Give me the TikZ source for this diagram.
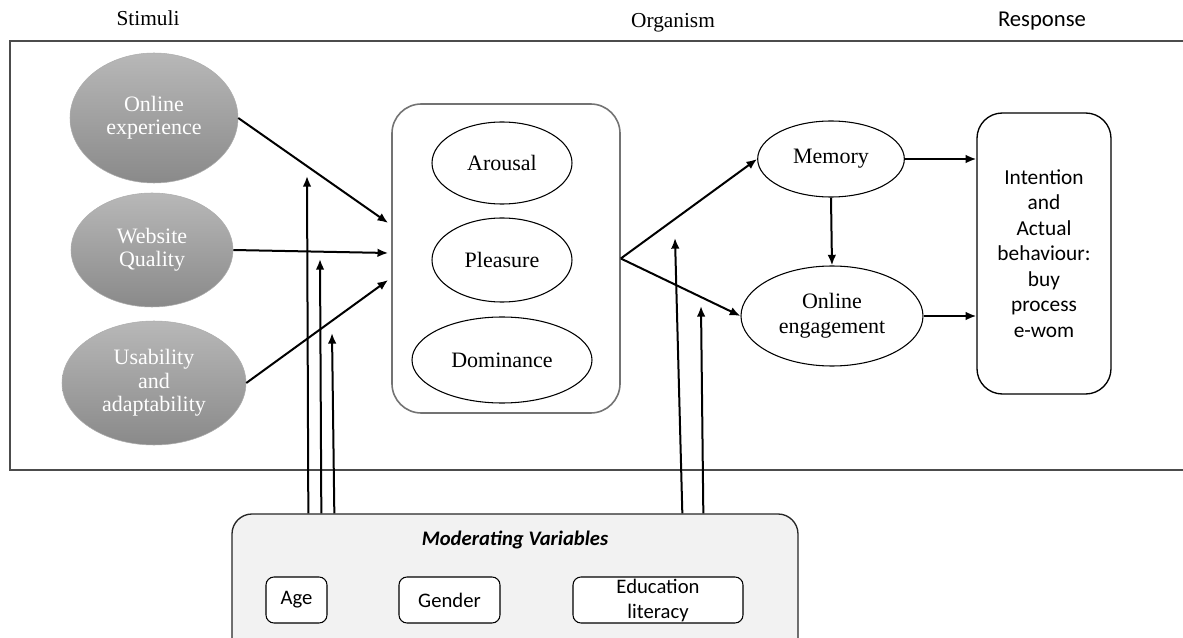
\documentclass[tikz,border=0pt]{standalone}
\usepackage{fontspec}
\setmainfont{Liberation Serif}
\newfontfamily\calfont{Carlito}
\usetikzlibrary{shapes.geometric, positioning, calc, arrows.meta}

\begin{document}
\begin{tikzpicture}[
            x=0.75pt, y=-0.75pt,
            every node/.style={inner sep=0pt, align=center},
            head/.style={font=\fontsize{16}{19}\selectfont},
            stim/.style={ellipse, draw=black!32, top color=black!28, bottom color=black!46,
                text=white, font=\fontsize{16.5}{17.5}\selectfont},
            emo/.style={ellipse, draw, line width=0.8pt, font=\fontsize{16.5}{19}\selectfont},
            modbox/.style={draw, rounded corners=6pt, fill=white, line width=0.8pt,
                minimum height=34.5pt, font=\calfont\fontsize{15.5}{18.75}\selectfont},
            arr/.style={-{Latex[length=8pt,width=6.5pt]}, line width=1.5pt}
          ]
            \useasboundingbox (0,0) rectangle (1183,638);
            \clip (0,0) rectangle (1183,638);
            \draw[black!70, line width=1.2pt] (10,41) rectangle (1195,470);

            \node[head] (stimuli) at (148,18) {Stimuli};
            \node[head] (organism) at (673,23) {Organism};
            \node[head, font=\calfont\fontsize{17}{19}\selectfont] (response) at (1042,21) {Response};

            \node[stim, minimum width=126pt, minimum height=97.5pt] (oe) at (154,118) {Online\\experience};
            \node[stim, minimum width=121.5pt, minimum height=85.5pt] (wq) at (152,250) {Website\\Quality};
            \node[stim, minimum width=138pt, minimum height=93pt] (ua) at (154,383) {Usability\\and\\adaptability};

            \node[draw=black!55, line width=1.2pt, rounded corners=22pt, minimum width=171pt, minimum height=231.75pt] (org) at (506,258.5) {};
            \node[emo, minimum width=105pt, minimum height=61.5pt] (aro) at (502,163) {Arousal};
            \node[emo, minimum width=105pt, minimum height=63pt] (ple) at (502,260) {Pleasure};
            \node[emo, minimum width=135pt, minimum height=64.5pt] (dom) at (502,360) {Dominance};

            \node[emo, minimum width=110pt, minimum height=57pt] (mem) at (831,159) {Memory};
            \node[emo, minimum width=136.5pt, minimum height=75pt] (eng) at (832,316) {Online\\engagement};

            \node[draw, line width=1pt, rounded corners=19pt, minimum width=100.5pt, minimum height=210.75pt,
                font=\calfont\fontsize{16}{19.1}\selectfont] (resp) at (1044,253.5)
                {Intention\\and\\Actual\\behaviour:\\buy\\process\\e-wom};

            \node[draw=black!85, fill=black!5, line width=1pt, rounded corners=15pt,
                minimum width=424.5pt, minimum height=109.5pt] (mod) at (515,587) {};
            \node[font=\calfont\fontsize{15.5}{18}\selectfont\bfseries\itshape] (modtitle) at (515,540) {Moderating Variables};
            \node[modbox, minimum width=45.75pt] (age) at (296.5,600) {Age};
            \node[modbox, minimum width=75.75pt] (gender) at (449.5,600) {Gender};
            \node[modbox, minimum width=127.5pt] (edu) at (658,600) {Education\\literacy};

            \draw[arr] (oe.east) -- ($(org.west)+(-3,-35.5)$);
            \draw[arr] (wq.east) -- ($(org.west)+(-3,-5.5)$);
            \draw[arr] (ua.east) -- ($(org.west)+(-3,21.5)$);

            \draw[arr] (org.east) -- (mem.west);
            \draw[arr] (org.east) -- (eng.west);
            \draw[arr] (mem.south) -- (eng.north);
            \draw[arr] (mem.east) -- (resp.west |- mem.east);
            \draw[arr] (eng.east) -- (resp.west |- eng.east);

            \coordinate (t1) at (307,176);
            \coordinate (t2) at (320,259);
            \coordinate (t3) at (332,333);
            \coordinate (t4) at (675,238);
            \coordinate (t5) at (701,306);
            \draw[arr] ($(mod.north west)+(77,0)$) -- (t1);
            \draw[arr] ($(mod.north west)+(90,0)$) -- (t2);
            \draw[arr] ($(mod.north west)+(103,0)$) -- (t3);
            \draw[arr] ($(mod.north west)+(451,0)$) -- (t4);
            \draw[arr] ($(mod.north west)+(472,0)$) -- (t5);
          \end{tikzpicture}
\end{document}
